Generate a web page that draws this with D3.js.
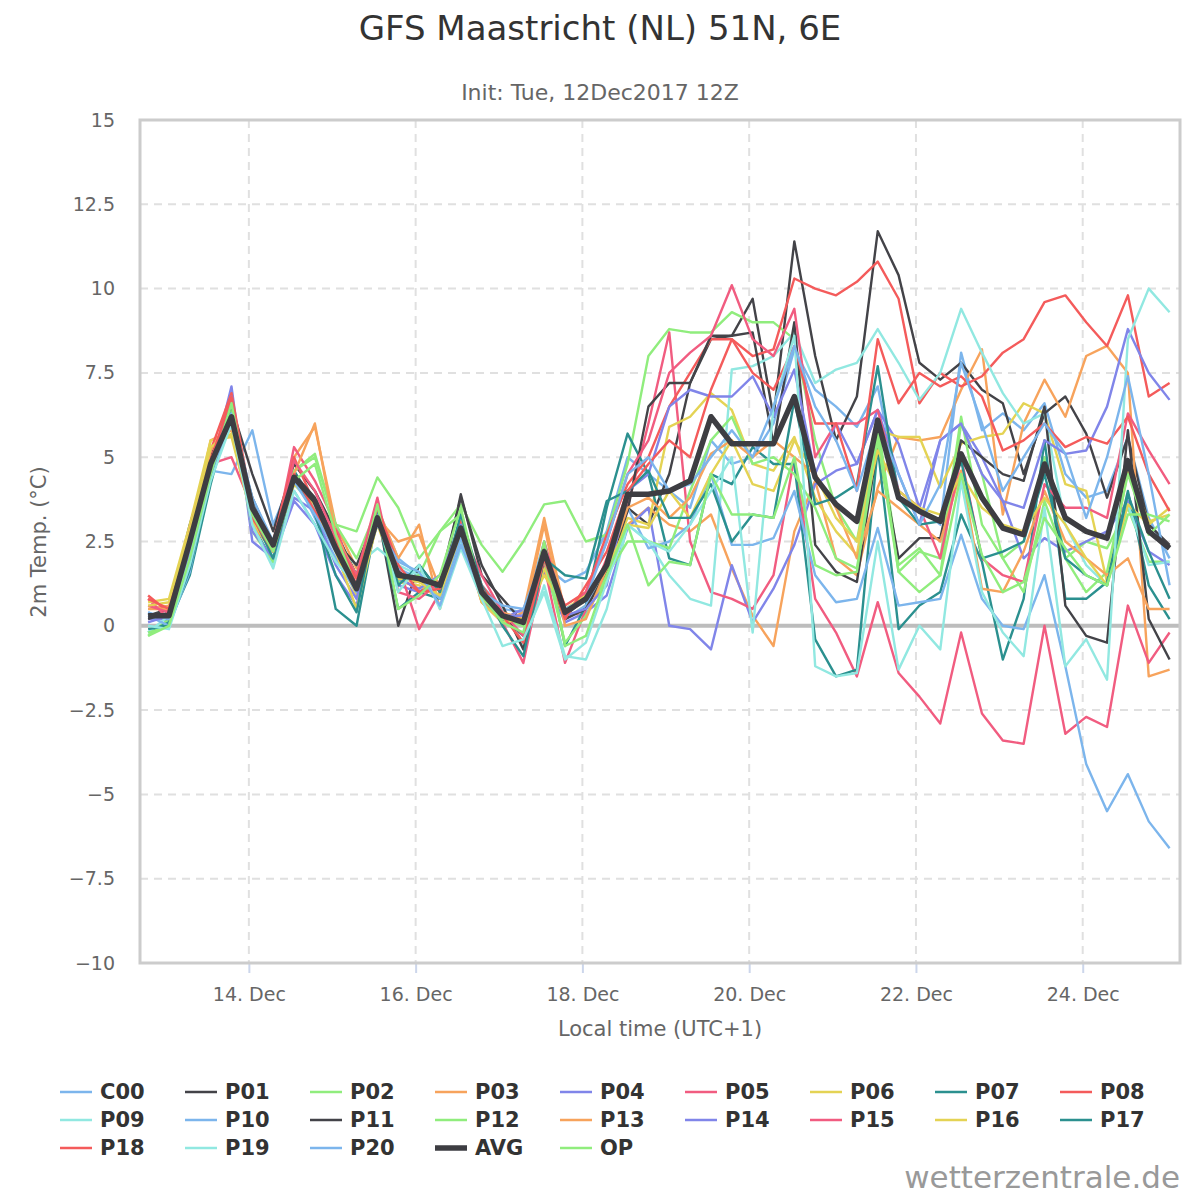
<!DOCTYPE html>
<html><head><meta charset="utf-8">
<script src="https://cdn.jsdelivr.net/npm/d3@7"></script>
<style>body{margin:0;background:#fff;font-family:"DejaVu Sans",sans-serif}</style>
</head><body><svg id="c" width="1200" height="1200"></svg>
<script>
// 6-hourly steps, first point 12 Dec 19:00 local (UTC+1)
const names = ["C00","P01","P02","P03","P04","P05","P06","P07","P08","P09","P10","P11","P12","P13","P14","P15","P16","P17","P18","P19","P20","AVG","OP"];
const colors = ["#7cb5ec","#434348","#90ed7d","#f7a35c","#8085e9","#f15c80","#e4d354","#2b908f","#f45b5b","#91e8e1",
  "#7cb5ec","#434348","#90ed7d","#f7a35c","#8085e9","#f15c80","#e4d354","#2b908f","#f45b5b","#91e8e1","#7cb5ec","#434348","#90ed7d"];
const yTicks = [15,12.5,10,7.5,5,2.5,0,-2.5,-5,-7.5,-10];

const C00=[0.4,0.1,2.0,4.6,4.5,5.8,3.0,4.5,3.2,2.0,1.5,3.5,2.0,1.5,0.8,2.7,1.2,0.5,0.4,1.8,1.3,1.6,2.8,5.0,4.5,4.0,3.5,5.5,4.8,5.0,6.0,8.2,7.0,6.5,5.9,7.1,4.0,3.5,3.0,8.1,5.8,6.3,5.8,6.6,4.5,3.8,4.0,5.6,3.2,2.0];
const P01=[0.3,0.5,3.0,5.0,6.5,4.5,2.8,4.8,4.0,2.8,1.5,3.4,0.0,1.8,1.0,3.9,1.5,0.8,0.1,1.9,0.3,0.8,1.8,3.5,3.0,4.5,7.2,8.5,8.6,9.7,6.2,11.4,8.0,5.5,6.8,11.7,10.4,7.8,7.3,7.8,7.0,6.6,4.5,6.3,6.8,5.7,3.8,5.6,3.0,2.4];
const P02=[-0.3,0.2,2.5,4.5,6.4,3.0,1.8,4.6,5.1,3.0,2.8,4.4,3.5,2.0,2.8,3.6,2.4,1.6,2.5,3.6,3.7,2.5,2.7,4.8,8.0,8.8,8.7,8.7,9.3,9.0,9.0,8.5,5.5,3.5,2.5,6.0,1.8,2.3,1.5,6.0,4.5,2.0,2.5,5.0,2.0,2.5,2.3,3.5,1.9,1.9];
const P03=[0.5,0.6,2.7,5.5,5.8,3.3,2.2,5.0,5.9,3.0,1.7,3.5,2.0,3.0,0.5,3.2,0.8,0.1,0.4,3.2,0.4,0.3,1.5,3.0,3.5,3.0,2.8,3.3,1.7,0.3,-0.6,2.8,4.3,2.0,1.5,4.1,5.6,5.5,5.6,7.0,8.2,3.3,6.0,7.3,6.2,8.0,8.3,7.5,-1.5,-1.3];
const P04=[0.2,0.2,2.0,4.6,7.1,2.5,2.0,3.7,3.0,1.5,0.6,3.5,1.2,1.0,1.5,2.5,0.8,0.2,0.5,1.6,0.1,0.4,0.9,2.9,3.5,0.0,-0.1,-0.7,1.8,0.1,1.1,2.4,4.2,4.6,4.8,6.4,5.4,3.5,5.5,6.0,5.0,3.7,2.0,2.6,2.2,2.5,2.8,3.7,2.2,1.8];
const P05=[0.8,0.2,2.5,4.8,5.0,3.5,2.3,5.3,4.3,3.0,1.0,3.5,1.8,-0.1,1.0,2.8,0.7,0.1,-1.1,1.8,-1.1,0.5,2.0,3.5,6.0,8.7,2.5,1.0,0.8,0.5,1.5,5.0,0.8,-0.2,-1.5,0.7,-1.4,-2.1,-2.9,-0.2,-2.6,-3.4,-3.5,0.0,-3.2,-2.7,-3.0,0.6,-1.1,-0.2];
const P06=[0.7,0.8,3.0,5.5,5.6,3.2,2.3,4.3,3.5,2.2,0.9,3.0,1.3,1.2,0.8,3.0,0.8,0.3,0.0,1.7,0.2,0.6,1.6,3.2,3.0,5.9,6.2,6.9,6.4,4.8,4.6,5.6,3.8,2.8,2.1,5.8,5.6,5.6,4.1,5.4,5.6,5.7,6.6,6.3,4.2,4.0,1.3,4.6,3.1,3.3];
const P07=[-0.2,0.1,1.5,4.2,6.5,3.0,1.9,4.6,3.6,0.5,0.0,3.3,0.5,1.0,0.8,2.6,1.0,0.2,-0.3,2.4,-0.6,0.6,3.5,5.7,4.5,2.0,1.8,4.5,4.2,5.3,4.8,4.8,-0.4,-1.5,-1.3,5.3,-0.1,0.6,1.0,3.3,1.9,-1.0,0.8,5.5,0.8,0.8,1.3,4.0,1.2,0.2];
const P08=[0.9,0.4,2.8,5.2,6.9,3.5,2.5,5.0,3.6,2.8,1.2,3.3,1.5,1.0,1.3,3.1,1.2,0.4,-0.5,2.2,0.6,1.0,2.7,4.2,5.0,6.5,7.5,8.5,8.5,8.0,8.2,10.3,10.0,9.8,10.2,10.8,9.7,6.6,7.5,7.1,7.4,8.1,8.5,9.6,9.8,9.0,8.3,9.8,6.8,7.2];
const P09=[-0.2,0.3,1.8,4.6,6.6,3.0,1.8,4.2,3.5,2.4,1.8,2.3,1.8,1.5,1.2,2.5,1.0,0.5,-0.6,1.2,-0.9,-1.0,0.5,3.0,2.5,1.5,0.8,0.6,7.6,7.7,8.0,8.7,7.2,7.6,7.8,8.8,7.8,6.7,7.5,9.4,8.1,6.9,6.0,6.3,3.0,1.8,1.2,3.6,1.8,1.9];
const P10=[0.3,0.0,1.6,4.5,6.0,3.6,2.4,4.0,3.0,2.0,1.0,3.3,1.7,1.4,0.8,2.6,0.9,0.2,0.3,2.5,0.2,0.6,1.8,3.5,2.3,2.5,3.0,4.5,2.4,2.4,2.6,4.0,1.5,0.7,0.8,2.9,0.6,0.7,0.8,2.7,0.8,0.0,-0.1,1.5,-1.2,-4.1,-5.5,-4.4,-5.8,-6.6];
const P11=[0.2,0.4,2.6,4.9,6.0,3.8,2.4,4.5,3.8,2.5,1.8,3.3,1.6,1.3,1.3,3.8,1.8,0.6,-0.7,2.0,0.2,0.5,1.6,3.4,6.5,7.2,7.2,8.6,8.6,8.7,5.4,9.0,2.4,1.6,1.3,5.4,2.0,2.6,2.6,5.5,5.0,4.5,4.3,6.5,0.6,-0.3,-0.5,5.8,0.2,-1.0];
const P12=[-0.2,0.0,2.3,4.8,6.5,2.8,1.9,4.6,5.0,3.0,2.0,3.5,1.3,1.5,2.8,3.3,1.0,0.2,0.0,2.0,-0.5,0.3,1.5,2.5,2.5,2.3,4.0,5.5,6.2,4.8,5.0,4.5,3.5,2.0,1.7,5.5,1.6,2.2,2.0,6.2,3.0,2.0,1.0,3.7,2.0,1.0,1.6,4.5,2.7,3.3];
const P13=[0.5,0.5,2.3,5.2,6.2,3.0,2.2,4.5,6.0,2.7,1.5,3.2,2.5,2.7,1.1,2.8,1.0,0.4,0.2,3.0,0.0,0.2,1.7,3.5,3.8,3.2,3.8,5.1,5.5,5.0,5.5,5.0,4.5,3.5,2.0,4.0,3.5,3.0,2.5,4.6,1.1,1.0,2.2,4.0,2.5,2.0,1.5,2.0,0.5,0.5];
const P14=[0.1,0.3,2.2,4.6,6.8,2.8,2.0,3.8,3.4,1.8,0.8,3.4,1.4,1.1,1.5,3.0,0.9,0.3,0.3,2.1,0.3,0.5,1.2,4.0,4.5,6.5,7.0,6.8,6.8,7.4,6.2,7.6,4.5,6.0,4.8,6.4,4.5,3.0,5.5,6.0,4.5,3.7,3.5,5.5,5.1,5.2,6.5,8.8,7.5,6.7];
const P15=[0.6,0.4,2.4,4.9,6.6,3.4,2.2,4.9,4.0,2.6,1.5,3.8,1.0,0.8,1.3,2.9,1.5,0.4,-0.3,2.5,0.4,1.0,2.5,4.5,5.5,7.5,8.1,8.6,10.1,8.5,8.0,9.4,5.0,6.0,6.0,6.4,4.0,3.5,2.0,5.0,2.0,1.5,1.3,4.2,3.5,3.5,3.2,6.3,5.2,4.2];
const P16=[0.6,0.7,2.8,5.3,5.7,3.1,2.2,4.2,3.6,2.2,0.5,3.1,1.4,1.3,0.9,2.8,0.7,0.1,0.2,1.5,0.5,0.9,1.7,3.0,2.9,4.0,3.2,4.5,5.5,4.2,4.0,5.5,4.5,3.2,2.5,5.2,4.0,3.5,3.3,4.5,3.5,3.0,2.8,3.8,3.0,2.0,1.2,3.6,3.0,3.5];
const P17=[-0.1,0.0,1.7,4.4,6.6,3.3,2.0,4.4,3.3,1.5,0.4,3.5,1.2,1.8,1.0,3.3,1.2,0.0,-0.9,2.0,1.5,1.4,3.7,4.0,4.6,3.2,3.2,4.2,2.5,3.3,3.2,6.7,3.6,3.8,4.2,7.7,3.8,3.0,3.1,4.9,2.0,2.2,2.5,4.5,2.0,1.5,1.2,3.9,2.2,0.8];
const P18=[0.8,0.5,2.5,4.9,6.8,3.2,2.2,4.5,3.4,2.5,1.4,3.5,1.8,1.0,1.1,2.9,1.1,0.3,-0.5,2.0,0.2,1.2,2.2,4.0,4.8,5.5,5.0,7.0,8.5,7.5,7.0,8.3,6.0,6.0,4.0,8.5,6.6,7.5,7.1,7.4,6.8,5.2,5.5,6.0,5.3,5.6,5.4,6.2,4.5,3.4];
const P19=[0.0,-0.1,1.8,4.3,6.0,3.0,1.7,4.0,3.0,1.9,1.2,3.2,1.0,1.8,0.5,2.3,0.8,-0.6,-0.4,1.0,-1.0,-0.5,1.3,3.0,2.5,2.2,3.0,4.0,5.0,-0.2,6.5,8.6,-1.2,-1.5,-1.4,2.5,-1.3,0.0,-0.7,4.3,1.0,-0.2,-0.9,3.5,-1.2,-0.4,-1.6,8.5,10.0,9.3];
const P20=[0.4,0.2,2.0,4.5,6.3,3.8,2.5,4.3,3.3,2.2,1.2,3.0,1.9,1.6,0.6,2.4,1.0,0.6,0.5,2.1,0.5,0.8,2.5,4.5,5.0,4.0,4.2,5.0,5.8,5.0,6.5,8.3,6.5,5.5,4.0,6.0,4.5,3.0,4.2,7.8,6.0,4.0,5.0,6.0,5.1,3.2,5.0,7.4,4.5,1.2];
const AVG=[0.3,0.3,2.5,4.8,6.2,3.5,2.4,4.4,3.7,2.3,1.1,3.2,1.5,1.4,1.2,2.9,1.0,0.3,0.1,2.2,0.4,0.8,1.8,3.9,3.9,4.0,4.3,6.2,5.4,5.4,5.4,6.8,4.4,3.6,3.1,6.1,3.8,3.4,3.1,5.1,3.8,2.9,2.7,4.8,3.2,2.8,2.6,4.9,2.8,2.3];
const OP=[-0.3,0.0,2.0,4.5,6.6,3.3,2.2,4.3,4.8,2.7,1.1,3.6,0.5,0.9,1.5,3.5,0.9,0.1,-0.2,2.5,-0.6,-0.3,1.5,3.0,1.2,1.9,1.8,4.5,3.3,3.3,3.2,5.0,1.8,1.5,1.6,5.8,1.6,1.0,1.5,4.5,2.1,1.0,1.3,3.2,2.3,1.5,1.2,3.3,3.3,3.1];
const seriesValues = [C00,P01,P02,P03,P04,P05,P06,P07,P08,P09,P10,P11,P12,P13,P14,P15,P16,P17,P18,P19,P20,AVG,OP];

const start = Date.UTC(2017,11,12,19);
const times = C00.map((_,i) => new Date(start + i*6*3600e3));

const svg = d3.select("#c");
const m = {l:140, r:1180, t:120, b:963};
const x = d3.scaleUtc().domain([new Date(Date.UTC(2017,11,12,16,40)), new Date(Date.UTC(2017,11,25,4))]).range([m.l, m.r]);
const y = d3.scaleLinear().domain([-10,15]).range([m.b, m.t]);
const fmt = v => d3.format("")(v).replace("-", "\u2212");

svg.append("text").attr("x",600).attr("y",40).attr("text-anchor","middle").attr("font-size",34).attr("fill","#333").text("GFS Maastricht (NL) 51N, 6E");
svg.append("text").attr("x",600).attr("y",100).attr("text-anchor","middle").attr("font-size",22).attr("fill","#666").text("Init: Tue, 12Dec2017 12Z");

//grid
const xTicks = [14,16,18,20,22,24].map(d => new Date(Date.UTC(2017,11,d)));
svg.append("g").selectAll("line").data(yTicks).join("line")
  .attr("x1",m.l).attr("x2",m.r).attr("y1",d=>y(d)).attr("y2",d=>y(d))
  .attr("stroke","#e0e0e0").attr("stroke-width",2).attr("stroke-dasharray","8,6");
svg.append("g").selectAll("line").data(xTicks).join("line")
  .attr("x1",d=>x(d)).attr("x2",d=>x(d)).attr("y1",m.t).attr("y2",m.b)
  .attr("stroke","#e0e0e0").attr("stroke-width",2).attr("stroke-dasharray","8,6");
svg.append("line").attr("x1",m.l).attr("x2",m.r).attr("y1",y(0)).attr("y2",y(0)).attr("stroke","#bdbdbd").attr("stroke-width",4);

//axes
const yAxis = svg.append("g").attr("transform",`translate(${m.l-22},0)`)
  .call(d3.axisLeft(y).tickValues(yTicks).tickSize(0).tickFormat(fmt));
yAxis.select(".domain").remove();
yAxis.selectAll("text").attr("font-size",19).attr("fill","#666").attr("font-family","DejaVu Sans");
const xAxis = svg.append("g").attr("transform",`translate(0,${m.b})`)
  .call(d3.axisBottom(x).tickValues(xTicks).tickSize(10).tickFormat(d => d.getUTCDate() + ". Dec"));
xAxis.select(".domain").remove();
xAxis.selectAll("line").attr("stroke","#ccd6eb").attr("stroke-width",2);
xAxis.selectAll("text").attr("font-size",19).attr("fill","#666").attr("font-family","DejaVu Sans").attr("dy","1.3em");
svg.append("text").attr("x",660).attr("y",1036).attr("text-anchor","middle").attr("font-size",21).attr("fill","#666").text("Local time (UTC+1)");
svg.append("text").attr("transform",`translate(46,542) rotate(-90)`).attr("text-anchor","middle").attr("font-size",21).attr("fill","#666").text("2m Temp. (°C)");

//lines
const line = d3.line().x((d,i) => x(times[i])).y(d => y(d));
const g = svg.append("g");
seriesValues.forEach((vals,i) => {
  if (names[i] === "AVG") return;
  g.append("path").attr("d", line(vals)).attr("fill","none").attr("stroke",colors[i]).attr("stroke-width",2.4).attr("stroke-linejoin","round");
});
g.append("path").attr("d", line(AVG)).attr("fill","none").attr("stroke","#3d3d42").attr("stroke-width",5.5).attr("stroke-linejoin","round");

svg.append("rect").attr("x",m.l).attr("y",m.t).attr("width",m.r-m.l).attr("height",m.b-m.t)
  .attr("fill","none").attr("stroke","#ccc").attr("stroke-width",3);

//legend
const lg = svg.append("g");
names.forEach((n,i) => {
  const lx = 60 + (i%9)*125, ly = 1092 + Math.floor(i/9)*28;
  lg.append("line").attr("x1",lx).attr("x2",lx+32).attr("y1",ly).attr("y2",ly)
    .attr("stroke", n==="AVG" ? "#3d3d42" : colors[i]).attr("stroke-width", n==="AVG" ? 5.5 : 2.5);
  lg.append("text").attr("x",lx+40).attr("y",ly+7).attr("font-size",21).attr("font-weight","bold").attr("fill","#333").text(n);
});
svg.append("text").attr("x",1180).attr("y",1188).attr("text-anchor","end").attr("font-size",31).attr("fill","#999").text("wetterzentrale.de");
</script></body></html>
